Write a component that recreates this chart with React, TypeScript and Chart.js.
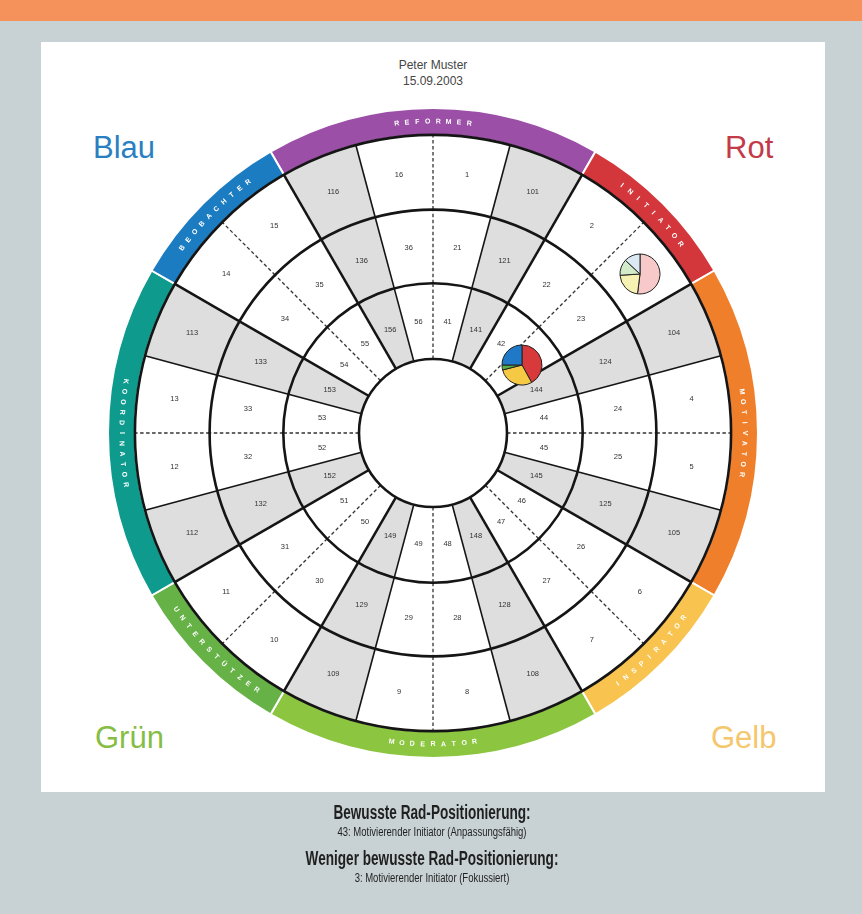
import React, { useEffect, useRef } from "react";
import { Chart, registerables } from "chart.js";

Chart.register(...registerables);

// ---------- data ----------
const bandLabels = ["REFORMER", "INITIATOR", "MOTIVATOR", "INSPIRATOR", "MODERATOR", "UNTERSTÜTZER", "KOORDINATOR", "BEOBACHTER"];
const bandSpans = [60, 30, 60, 30, 60, 30, 60, 30];
const bandColors = ["#9b4fa7", "#d3373b", "#f07f2b", "#f8c34f", "#8cc540", "#66b247", "#0f9a8e", "#1c7cc2"];

// cells clockwise, 15° each, starting at 345°
const outerRing = [16, 1, 101, 2, 3, 104, 4, 5, 105, 6, 7, 108, 8, 9, 109, 10, 11, 112, 12, 13, 113, 14, 15, 116];
const middleRing = [36, 21, 121, 22, 23, 124, 24, 25, 125, 26, 27, 128, 28, 29, 129, 30, 31, 132, 32, 33, 133, 34, 35, 136];
const innerRing = [56, 41, 141, 42, 43, 144, 44, 45, 145, 46, 47, 148, 48, 49, 149, 50, 51, 152, 52, 53, 153, 54, 55, 156];

const energyLabels = ["Rot", "Gelb", "Grün", "Blau"];
const consciousEnergy = [42, 29, 4, 25];
const lessConsciousEnergy = [52, 22, 13, 13];
const consciousColors = ["#d83a3c", "#f6c944", "#5aae48", "#1f79c6"];
const lessConsciousColors = ["#f7c9c9", "#f7f2b4", "#d3ebc9", "#dbe9f3"];
const consciousPosition = 43;
const lessConsciousPosition = 3;

const cellRings = [outerRing, middleRing, innerRing];

const wheelPlugin = {
  id: "wheelDecor",
  afterDatasetsDraw(chart: any) {
    const ctx = chart.ctx;
    const band = chart.getDatasetMeta(0);
    const rings = [1, 2, 3].map((i) => chart.getDatasetMeta(i));
    ctx.save();

    // cell numbers
    ctx.fillStyle = "#333333";
    ctx.font = '7.5px "Liberation Sans", Arial, sans-serif';
    ctx.textAlign = "center";
    ctx.textBaseline = "middle";
    rings.forEach((meta: any, r: number) => {
      const values = cellRings[r];
      meta.data.forEach((arc: any, i: number) => {
        const p = arc.tooltipPosition(true);
        ctx.fillText(String(values[i]), p.x, p.y);
      });
    });

    // radial lines
    rings.forEach((meta: any) => {
      meta.data.forEach((arc: any, i: number) => {
        const { x, y, startAngle, innerRadius, outerRadius } = arc.getProps(
          ["x", "y", "startAngle", "innerRadius", "outerRadius"],
          true
        );
        const group = Math.floor(i / 3);
        const c = Math.cos(startAngle);
        const s = Math.sin(startAngle);
        ctx.beginPath();
        if (i % 3 === 1) {
          ctx.setLineDash([3.5, 2.5]);
          ctx.lineWidth = 1.3;
          ctx.strokeStyle = "#333";
        } else {
          ctx.setLineDash([]);
          ctx.lineWidth = group % 2 ? 2.5 : 1.6;
          ctx.strokeStyle = "#151515";
        }
        ctx.moveTo(x + c * innerRadius, y + s * innerRadius);
        ctx.lineTo(x + c * outerRadius, y + s * outerRadius);
        ctx.stroke();
      });
    });

    // ring circles
    ctx.setLineDash([]);
    ctx.strokeStyle = "#151515";
    ctx.lineWidth = 2.6;
    const radii: number[] = [];
    rings.forEach((meta: any) => {
      const a = meta.data[0];
      radii.push(a.innerRadius, a.outerRadius);
    });
    const cx = rings[0].data[0].x;
    const cy = rings[0].data[0].y;
    Array.from(new Set(radii.map((v) => Math.round(v * 10) / 10))).forEach((r) => {
      ctx.beginPath();
      ctx.arc(cx, cy, r, 0, Math.PI * 2);
      ctx.stroke();
    });

    // band labels
    ctx.fillStyle = "#ffffff";
    ctx.font = 'bold 7px "Liberation Sans", Arial, sans-serif';
    band.data.forEach((arc: any, i: number) => {
      const { x, y, startAngle, endAngle, innerRadius, outerRadius } = arc.getProps(
        ["x", "y", "startAngle", "endAngle", "innerRadius", "outerRadius"],
        true
      );
      const mid = (startAngle + endAngle) / 2;
      const r = (innerRadius + outerRadius) / 2;
      const text = bandLabels[i];
      const n = text.length;
      const step = 10.4 / r;
      let compass = ((mid * 180) / Math.PI + 90) % 360;
      if (compass < 0) compass += 360;
      const cw = compass < 91 || compass > 271;
      for (let j = 0; j < n; j++) {
        const off = (j - (n - 1) / 2) * step;
        const th = cw ? mid + off : mid - off;
        ctx.save();
        ctx.translate(x + Math.cos(th) * r, y + Math.sin(th) * r);
        ctx.rotate(cw ? th + Math.PI / 2 : th - Math.PI / 2);
        ctx.fillText(text[j], 0, 0);
        ctx.restore();
      }
    });
    ctx.restore();
  },
};

function cellColors(values: number[]) {
  return values.map((v) => (v > 100 ? "#dedede" : "#ffffff"));
}

export default function App() {
  const mainRef = useRef<HTMLCanvasElement>(null);
  const pieARef = useRef<HTMLCanvasElement>(null);
  const pieBRef = useRef<HTMLCanvasElement>(null);

  useEffect(() => {
    const main = new Chart(mainRef.current as HTMLCanvasElement, {
      type: "doughnut",
      data: {
        labels: bandLabels,
        datasets: [
          {
            data: bandSpans,
            backgroundColor: bandColors,
            borderColor: "#ffffff",
            borderWidth: 2,
            rotation: -30,
            weight: 27,
          } as any,
          {
            data: outerRing.map(() => 15),
            backgroundColor: cellColors(outerRing),
            borderWidth: 0,
            rotation: -15,
            weight: 75,
          },
          {
            data: middleRing.map(() => 15),
            backgroundColor: cellColors(middleRing),
            borderWidth: 0,
            rotation: -15,
            weight: 74,
          },
          {
            data: innerRing.map(() => 15),
            backgroundColor: cellColors(innerRing),
            borderWidth: 0,
            rotation: -15,
            weight: 76,
          },
        ],
      },
      options: {
        responsive: false,
        animation: false,
        events: [],
        cutout: 74,
        layout: { padding: { left: 107, top: 107, right: 103, bottom: 155 } },
        plugins: { legend: { display: false }, tooltip: { enabled: false } },
      } as any,
      plugins: [wheelPlugin],
    });

    const makePie = (canvas: HTMLCanvasElement, values: number[], colors: string[], pos: number) => {
      const inInner = innerRing.includes(pos);
      const meta = main.getDatasetMeta(inInner ? 3 : 1);
      const ring = inInner ? innerRing : outerRing;
      const el: any = meta.data[ring.indexOf(pos)];
      const p = el.tooltipPosition(true);
      canvas.style.left = `${p.x - 23}px`;
      canvas.style.top = `${p.y - 23}px`;
      return new Chart(canvas, {
        type: "pie",
        data: {
          labels: energyLabels,
          datasets: [{ data: values, backgroundColor: colors, borderColor: "#222", borderWidth: 1 }],
        },
        options: {
          responsive: false,
          animation: false,
          events: [],
          radius: 20,
          plugins: { legend: { display: false }, tooltip: { enabled: false } },
        } as any,
      });
    };
    const pieA = makePie(pieARef.current as HTMLCanvasElement, consciousEnergy, consciousColors, consciousPosition);
    const pieB = makePie(pieBRef.current as HTMLCanvasElement, lessConsciousEnergy, lessConsciousColors, lessConsciousPosition);

    return () => {
      pieA.destroy();
      pieB.destroy();
      main.destroy();
    };
  }, []);

  const corner = (text: string, color: string, style: any) => (
    <div
      style={{
        position: "absolute",
        fontSize: 31,
        lineHeight: "31px",
        color,
        fontFamily: '"Liberation Sans", Arial, sans-serif',
        ...style,
      }}
    >
      {text}
    </div>
  );

  const line = (text: string, top: number, size: number, bold: boolean, sx: number) => (
    <div
      style={{
        position: "absolute",
        left: 0,
        width: 864,
        top,
        textAlign: "center",
        color: "#1f1f1f",
        fontFamily: '"Liberation Sans", Arial, sans-serif',
        fontSize: size,
        fontWeight: bold ? "bold" : "normal",
        lineHeight: `${size + 2}px`,
        transform: `scaleX(${sx})`,
        transformOrigin: "432px 0",
        whiteSpace: "nowrap",
      }}
    >
      {text}
    </div>
  );

  return (
    <div
      style={{
        position: "absolute",
        left: 0,
        top: 0,
        width: 862,
        height: 914,
        background: "#c8d1d3",
        overflow: "hidden",
        fontFamily: '"Liberation Sans", Arial, sans-serif',
      }}
    >
      <div style={{ position: "absolute", left: 0, top: 0, width: 862, height: 21, background: "#f5915a" }} />
      <div style={{ position: "absolute", left: 41, top: 42, width: 784, height: 750, background: "#ffffff" }} />
      <div
        style={{
          position: "absolute",
          left: 333,
          width: 200,
          top: 57,
          textAlign: "center",
          fontSize: 12,
          lineHeight: "16px",
          color: "#454545",
        }}
      >
        <div>Peter Muster</div>
        <div>15.09.2003</div>
      </div>
      {corner("Blau", "#2a7fc2", { left: 93, top: 132 })}
      {corner("Rot", "#c33a48", { left: 725, top: 132 })}
      {corner("Grün", "#86bd44", { left: 95, top: 722 })}
      {corner("Gelb", "#f4c76c", { left: 711, top: 722 })}
      <canvas ref={mainRef} width={862} height={914} style={{ position: "absolute", left: 0, top: 0 }} />
      <canvas ref={pieARef} width={46} height={46} style={{ position: "absolute", left: 0, top: 0 }} />
      <canvas ref={pieBRef} width={46} height={46} style={{ position: "absolute", left: 0, top: 0 }} />
      {line("Bewusste Rad-Positionierung:", 801, 20, true, 0.68)}
      {line("43: Motivierender Initiator (Anpassungsfähig)", 825, 12.5, false, 0.76)}
      {line("Weniger bewusste Rad-Positionierung:", 847, 20, true, 0.68)}
      {line("3: Motivierender Initiator (Fokussiert)", 871, 12.5, false, 0.76)}
    </div>
  );
}
